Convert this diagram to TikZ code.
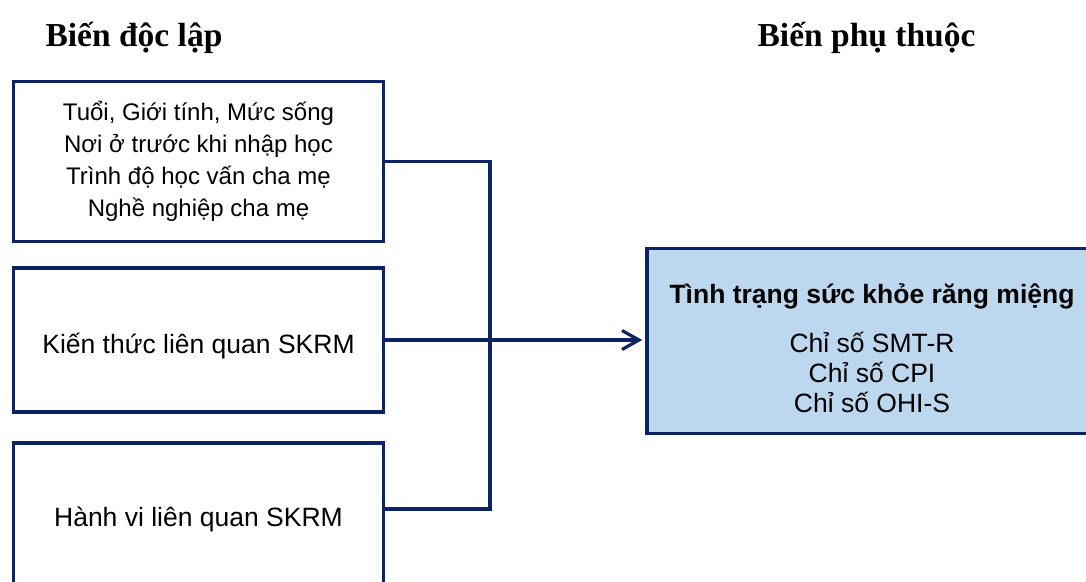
\documentclass[tikz,border=0pt]{standalone}
\usepackage{fontspec}
\usetikzlibrary{arrows.meta}
\newfontfamily\bodyfont{Liberation Sans}
\newfontfamily\headfont{Liberation Serif}
\definecolor{navy}{RGB}{12,36,99}
\definecolor{paleblue}{RGB}{189,215,238}
\tikzset{
  varbox/.style={draw=navy, line width=3.5pt, fill=white, minimum width=370pt,
    align=center, inner sep=0pt},
  boxtext/.style={align=center, inner sep=0pt, font=\bodyfont\fontsize{26.5}{30}\selectfont},
  depbox/.style={draw=navy, line width=3.5pt, fill=paleblue, minimum width=450pt,
    minimum height=185pt, inner sep=0pt},
  heading/.style={font=\headfont\bfseries\fontsize{33.5}{36}\selectfont, anchor=base, inner sep=0pt},
  conn/.style={draw=navy, line width=3.2pt},
  arrowconn/.style={conn, shorten >=3pt, -{Straight Barb[length=17pt,width=19pt]}}
}
\begin{document}
\begin{tikzpicture}[x=1pt, y=-1pt]
\clip (0,0) rectangle (1086,581);
\fill[white] (0,0) rectangle (1086,581);

% column headings
\node[heading] (hind) at (134,46) {Biến độc lập};
\node[heading] (hdep) at (866.5,46) {Biến phụ thuộc};

% independent variables
\node[varbox, minimum height=160pt, font=\bodyfont\fontsize{24}{32}\selectfont] (b1) at (198.5,161.5)
  {Tuổi, Giới tính, Mức sống\\Nơi ở trước khi nhập học\\Trình độ học vấn cha mẹ\\Nghề nghiệp cha mẹ};
\node[varbox, minimum height=144pt] (b2) at (198.5,340) {};
\node[varbox, minimum height=147pt] (b3) at (198.5,516.5) {};
\node[boxtext] (t2) at ([yshift=-6pt]b2.center) {Kiến thức liên quan SKRM};
\node[boxtext] (t3) at ([yshift=-3pt]b3.center) {Hành vi liên quan SKRM};

% dependent variable
\node[depbox] (dep) at (872,341) {};
\node[boxtext] (deptext) at (872,348)
  {{\bfseries Tình trạng sức khỏe răng miệng}\\[19pt]
   Chỉ số SMT-R\\Chỉ số CPI\\Chỉ số OHI-S};

% bus collecting the first and third boxes
\coordinate (bus) at (490,509);
\draw[conn] (b1.east) -| (bus) -- (bus -| b3.east);
\draw[arrowconn] (b2.east) -- (b2.east -| dep.west);
\end{tikzpicture}
\end{document}
